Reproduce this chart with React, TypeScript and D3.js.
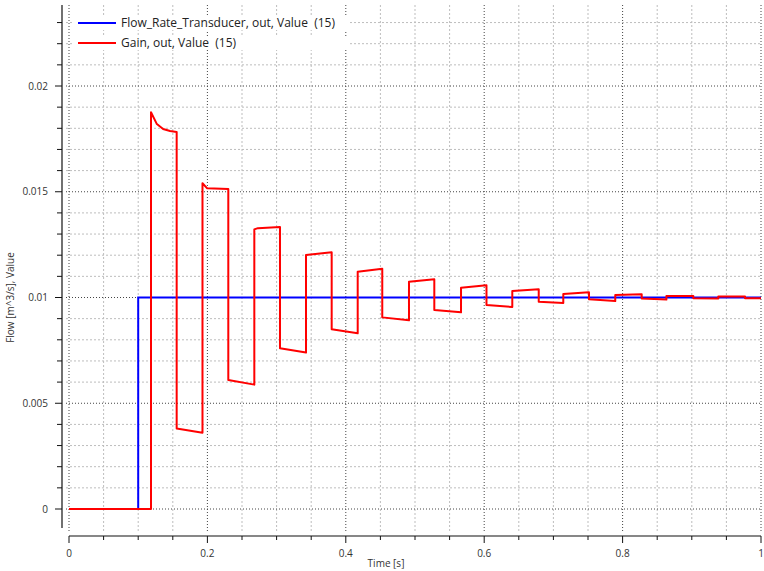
import React from "react";
import * as d3 from "d3";

const flowT = [0, 0.1, 0.1, 1];
const flowV = [0, 0, 0.01, 0.01];

const gainT = [
  0, 0.1185, 0.1185, 0.127, 0.136, 0.146, 0.1556, 0.1556, 0.1929, 0.1929, 0.1997, 0.2302,
  0.2302, 0.2678, 0.2678, 0.273, 0.3049, 0.3049, 0.3425, 0.3425, 0.3796, 0.3796, 0.4172,
  0.4172, 0.4527, 0.4527, 0.4913, 0.4913, 0.5279, 0.5279, 0.5665, 0.5665, 0.6033, 0.6033,
  0.6406, 0.6406, 0.6788, 0.6788, 0.7143, 0.7143, 0.7514, 0.7514, 0.7894, 0.7894, 0.8276,
  0.8276, 0.8633, 0.8633, 0.9022, 0.9022, 0.9383, 0.9383, 0.9769, 0.9769, 1,
];
const gainV = [
  0, 0, 0.01876, 0.0182, 0.01797, 0.01787, 0.01783, 0.00381, 0.00361, 0.0154, 0.01516, 0.01513,
  0.0061, 0.00588, 0.01322, 0.01328, 0.01333, 0.0076, 0.0074, 0.01201, 0.01214, 0.0085, 0.00831,
  0.01122, 0.01136, 0.00906, 0.00892, 0.01075, 0.01086, 0.00941, 0.0093, 0.01046, 0.01058, 0.00965,
  0.00955, 0.01031, 0.01039, 0.0098, 0.00974, 0.01017, 0.01025, 0.00992, 0.00983, 0.01012,
  0.01015, 0.00995, 0.0099, 0.01007, 0.01007, 0.00996, 0.00995, 0.01005, 0.01005, 0.00997,
  0.00997,
];

const xTickLabels = ["0", "0.2", "0.4", "0.6", "0.8", "1"];
const yTickLabels = ["0", "0.005", "0.01", "0.015", "0.02"];
const seriesNames = ["Flow_Rate_Transducer, out, Value  (15)", "Gain, out, Value  (15)"];
const seriesColors = ["#0000ff", "#ff0000"];

const W = 764;
const H = 571;
const FONT = "'Open Sans', 'Noto Sans', sans-serif";

export default function App() {
  const x = d3.scaleLinear().domain([0, 1]).range([69, 761]);
  const y = d3.scaleLinear().domain([0, 0.02]).range([509, 86]);
  const yTop = y.invert(5);

  const line = d3
    .line<[number, number]>()
    .x((d) => x(d[0]))
    .y((d) => y(d[1]));

  const flowPts = flowT.map((t, i) => [t, flowV[i]] as [number, number]);
  const gainPts = gainT.map((t, i) => [t, gainV[i]] as [number, number]);

  const xMinor = d3.range(0, 21).map((i) => i * 0.05);
  const yMinor = d3.range(0, 24).map((i) => i * 0.001).filter((v) => v <= yTop);

  return (
    <svg
      width={W}
      height={H}
      style={{ position: "absolute", left: 0, top: 0, background: "#fff" }}
      fontFamily={FONT}
    >
      <rect x={0} y={0} width={W} height={H} fill="#fff" />
      {xMinor.map((v, i) => {
        const major = i % 4 === 0;
        return (
          <line
            key={"gx" + i}
            x1={x(v)}
            x2={x(v)}
            y1={5}
            y2={531}
            stroke={major ? "#444" : "#bdbdbd"}
            strokeDasharray={major ? "1,2" : "2,2"}
            strokeWidth={1}
          />
        );
      })}
      {yMinor.map((v, i) => {
        const major = i % 5 === 0;
        return (
          <line
            key={"gy" + i}
            x1={66}
            x2={761}
            y1={y(v)}
            y2={y(v)}
            stroke={major ? "#444" : "#bdbdbd"}
            strokeDasharray={major ? "1,2" : "2,2"}
            strokeWidth={1}
          />
        );
      })}

      <line x1={62} x2={62} y1={5} y2={528} stroke="#111" strokeWidth={1.2} />
      {yMinor.map((v, i) => (
        <line
          key={"ty" + i}
          x1={i % 5 === 0 ? 55 : 57}
          x2={62}
          y1={y(v)}
          y2={y(v)}
          stroke="#111"
          strokeWidth={1}
        />
      ))}
      {yTickLabels.map((s, i) => (
        <text
          key={"yl" + i}
          x={48}
          y={y(i * 0.005)}
          dy="0.35em"
          textAnchor="end"
          fontSize={10}
          fill="#333"
        >
          {s}
        </text>
      ))}
      <text
        transform={`translate(14,${y(0.01)}) rotate(-90)`}
        textAnchor="middle"
        fontSize={10}
        fill="#333"
      >
        Flow [m^3/s], Value
      </text>

      <line x1={69} x2={761} y1={536} y2={536} stroke="#111" strokeWidth={1.2} />
      {xMinor.map((v, i) => (
        <line
          key={"tx" + i}
          x1={x(v)}
          x2={x(v)}
          y1={536}
          y2={i % 4 === 0 ? 543 : 540}
          stroke="#111"
          strokeWidth={1}
        />
      ))}
      {xTickLabels.map((s, i) => (
        <text
          key={"xl" + i}
          x={x(i * 0.2)}
          y={557}
          textAnchor="middle"
          fontSize={10}
          fill="#333"
        >
          {s}
        </text>
      ))}
      <text x={386} y={567} textAnchor="middle" fontSize={10} fill="#333">
        Time [s]
      </text>

      <path d={line(flowPts) || ""} fill="none" stroke={seriesColors[0]} strokeWidth={2} />
      <path
        d={line(gainPts) || ""}
        fill="none"
        stroke={seriesColors[1]}
        strokeWidth={2}
        strokeLinejoin="round"
      />

      {seriesNames.map((n, i) => (
        <g key={"lg" + i} transform={`translate(0,${23 + i * 20})`}>
          <rect x={74} y={-7} width={275} height={14} fill="#fff" />
          <line x1={78} x2={116} y1={0} y2={0} stroke={seriesColors[i]} strokeWidth={2} />
          <text x={121} y={0} dy="0.35em" fontSize={12} fill="#222" style={{ whiteSpace: "pre" }}>
            {n}
          </text>
        </g>
      ))}
    </svg>
  );
}
